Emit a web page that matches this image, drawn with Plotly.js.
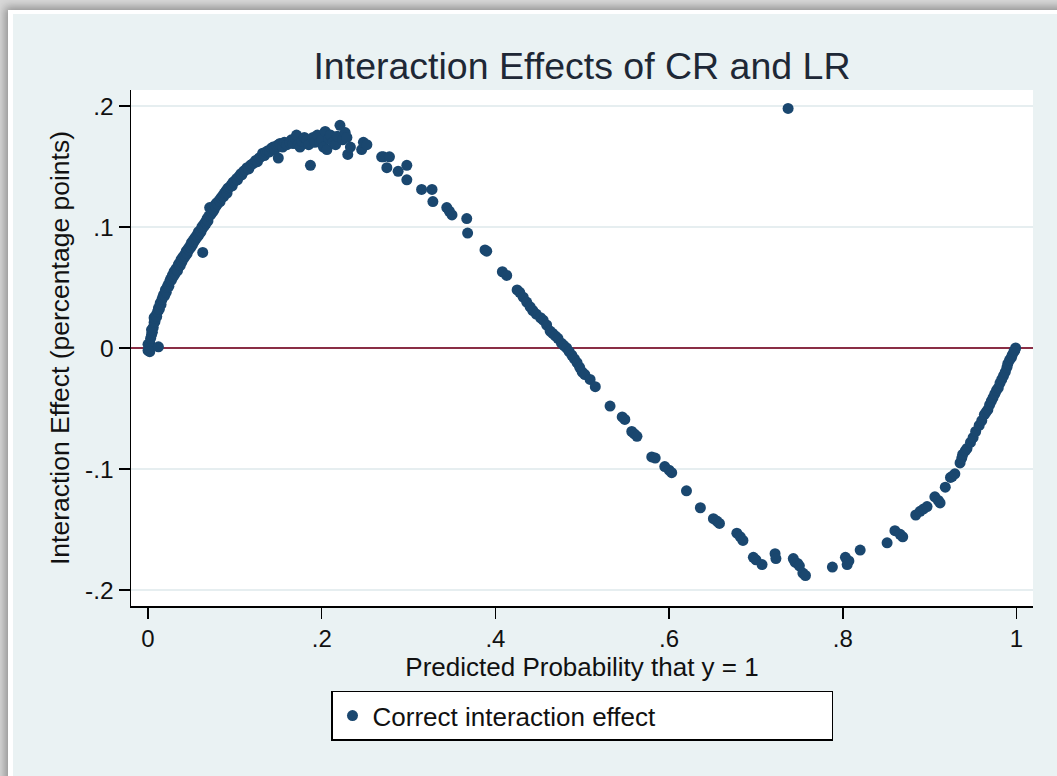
<!DOCTYPE html>
<html>
<head>
<meta charset="utf-8">
<script src="https://cdn.plot.ly/plotly-3.0.1.min.js"></script>
<style>
  html, body { margin: 0; padding: 0; width: 1057px; height: 776px; overflow: hidden; background: #d9d9d9; }
  #frame { position: absolute; left: 8px; top: 10px; width: 1060px; height: 780px; background: #ffffff;
           box-shadow: 0 0 9px 3px rgba(0,0,0,0.35); }
  #chart { position: absolute; left: 13px; top: 14px; width: 1044px; height: 762px; }
</style>
</head>
<body>
<div id="frame"></div>
<div id="chart"></div>
<script>
// Predicted probability that y = 1 (x) and interaction effect (y)
const predictedProb = [
  0.000,0.001,0.002,0.000,0.003,0.002,0.004,0.005,0.006,0.004,0.007,0.008,0.007,0.009,0.010,0.011,0.012,0.013,0.012,
  0.014,0.015,0.016,0.017,0.018,0.019,0.020,0.021,0.022,0.023,0.024,0.025,0.026,0.027,0.028,0.029,0.030,0.031,0.032,
  0.033,0.034,0.035,0.036,0.037,0.038,0.039,0.040,0.041,0.042,0.043,0.044,0.045,0.046,0.047,0.048,0.049,0.050,0.051,
  0.052,0.053,0.054,0.055,0.056,0.057,0.058,0.059,0.060,0.061,0.062,0.063,0.063,0.064,0.065,0.066,0.067,0.068,0.069,
  0.070,0.071,0.072,0.073,0.074,0.075,0.076,0.077,0.078,0.079,0.080,0.082,0.083,0.084,0.086,0.087,0.088,0.090,0.091,
  0.092,0.094,0.096,0.097,0.098,0.100,0.102,0.103,0.105,0.107,0.108,0.110,0.112,0.114,0.116,0.118,0.120,0.122,0.124,
  0.126,0.128,0.130,0.132,0.134,0.136,0.138,0.140,0.142,0.144,0.146,0.148,0.150,0.150,0.152,0.155,0.157,0.160,0.163,
  0.165,0.167,0.170,0.171,0.173,0.175,0.177,0.180,0.183,0.185,0.187,0.190,0.192,0.195,0.198,0.200,0.202,0.204,0.206,
  0.208,0.210,0.213,0.216,0.218,0.221,0.224,0.227,0.229,0.230,0.233,0.246,0.248,0.252,0.269,0.271,0.275,0.278,0.288,
  0.298,0.298,0.315,0.327,0.328,0.344,0.347,0.350,0.367,0.368,0.388,0.390,0.408,0.413,0.425,0.428,0.432,0.436,0.440,
  0.443,0.447,0.452,0.455,0.459,0.463,0.466,0.469,0.472,0.476,0.479,0.482,0.485,0.488,0.491,0.494,0.497,0.500,0.503,
  0.509,0.515,0.532,0.546,0.549,0.557,0.560,0.563,0.580,0.584,0.595,0.600,0.603,0.620,0.636,0.651,0.655,0.658,0.678,
  0.682,0.685,0.697,0.700,0.707,0.722,0.723,0.743,0.745,0.748,0.750,0.754,0.757,0.788,0.803,0.805,0.807,0.820,0.851,
  0.860,0.866,0.869,0.884,0.889,0.893,0.897,0.906,0.910,0.912,0.918,0.924,0.926,0.929,0.935,0.937,0.938,0.941,0.943,
  0.947,0.950,0.953,0.957,0.960,0.963,0.965,0.967,0.969,0.971,0.973,0.975,0.977,0.979,0.981,0.983,0.985,0.987,0.989,
  0.990,0.992,0.994,0.995,0.997,0.999,0.998,0.737
];
const interactionEffect = [
  -0.002,0.002,0.004,0.003,0.008,-0.003,0.011,0.013,0.017,0.015,0.021,0.022,0.025,0.027,0.026,0.030,0.033,0.032,0.001,
  0.037,0.036,0.040,0.042,0.044,0.043,0.048,0.046,0.050,0.052,0.051,0.055,0.057,0.056,0.060,0.059,0.063,0.061,0.065,
  0.066,0.064,0.069,0.070,0.068,0.073,0.071,0.075,0.074,0.077,0.076,0.080,0.078,0.082,0.081,0.084,0.083,0.087,0.085,
  0.089,0.088,0.091,0.090,0.093,0.092,0.096,0.094,0.097,0.096,0.100,0.079,0.099,0.102,0.101,0.104,0.103,0.107,0.105,
  0.109,0.116,0.110,0.113,0.112,0.115,0.114,0.118,0.117,0.120,0.119,0.122,0.121,0.124,0.126,0.125,0.128,0.130,0.128,
  0.132,0.133,0.135,0.134,0.137,0.138,0.140,0.139,0.142,0.144,0.143,0.146,0.147,0.149,0.148,0.151,0.152,0.153,0.155,
  0.154,0.157,0.158,0.161,0.159,0.162,0.163,0.162,0.165,0.166,0.164,0.167,0.157,0.168,0.169,0.166,0.170,0.168,0.170,
  0.172,0.169,0.173,0.176,0.168,0.166,0.171,0.174,0.172,0.168,0.151,0.174,0.170,0.176,0.170,0.172,0.166,0.179,0.164,
  0.173,0.176,0.170,0.168,0.175,0.184,0.172,0.178,0.174,0.160,0.166,0.164,0.170,0.168,0.158,0.158,0.149,0.158,0.146,
  0.151,0.139,0.131,0.131,0.121,0.116,0.113,0.110,0.107,0.095,0.081,0.080,0.063,0.060,0.048,0.046,0.042,0.038,0.034,
  0.031,0.028,0.025,0.023,0.019,0.014,0.012,0.010,0.008,0.004,0.002,0.000,-0.003,-0.006,-0.009,-0.012,-0.016,-0.020,-0.022,
  -0.026,-0.032,-0.048,-0.057,-0.059,-0.069,-0.071,-0.073,-0.090,-0.091,-0.098,-0.101,-0.103,-0.118,-0.132,-0.141,-0.143,-0.145,-0.153,
  -0.156,-0.159,-0.173,-0.175,-0.179,-0.170,-0.174,-0.174,-0.177,-0.178,-0.180,-0.186,-0.188,-0.181,-0.173,-0.179,-0.176,-0.167,-0.161,
  -0.151,-0.154,-0.156,-0.138,-0.135,-0.133,-0.131,-0.123,-0.126,-0.128,-0.115,-0.107,-0.106,-0.104,-0.095,-0.091,-0.088,-0.085,-0.083,
  -0.078,-0.074,-0.069,-0.064,-0.060,-0.055,-0.053,-0.051,-0.047,-0.044,-0.041,-0.038,-0.035,-0.033,-0.029,-0.026,-0.023,-0.020,-0.016,
  -0.013,-0.010,-0.008,-0.006,-0.003,0.000,-0.002,0.198
];
const xTickVals = [0, 0.2, 0.4, 0.6, 0.8, 1];
const xTickText = ['0', '.2', '.4', '.6', '.8', '1'];
const yTickVals = [-0.2, -0.1, 0, 0.1, 0.2];
const yTickText = ['-.2', '-.1', '0', '.1', '.2'];

const FONT = 'Arial, "Liberation Sans", sans-serif';

const trace = {
  type: 'scatter',
  mode: 'markers',
  x: predictedProb,
  y: interactionEffect,
  name: 'Correct interaction effect',
  marker: { color: '#1A476F', size: 11, line: { width: 0 } },
  hoverinfo: 'x+y'
};

const layout = {
  width: 1044,
  height: 762,
  paper_bgcolor: '#EAF2F3',
  plot_bgcolor: '#FFFFFF',
  margin: { l: 118, r: 24, t: 76, b: 170 },
  font: { family: FONT, color: '#111111', size: 24 },
  title: {
    text: 'Interaction Effects of CR and LR',
    font: { family: FONT, size: 37.5, color: '#1E2836' },
    x: 0.5, xref: 'paper', xanchor: 'center',
    y: 0.932, yref: 'container', yanchor: 'middle'
  },
  xaxis: {
    range: [-0.0196, 1.019],
    tickvals: xTickVals,
    ticktext: xTickText,
    ticks: 'outside', ticklen: 11, tickwidth: 1.5, tickcolor: '#000000',
    showline: true, linecolor: '#000000', linewidth: 1.5,
    showgrid: false, zeroline: false,
    tickfont: { family: FONT, size: 24, color: '#111111' },
    title: { text: 'Predicted Probability that y = 1', font: { family: FONT, size: 26, color: '#111111' }, standoff: 0 },
    automargin: false
  },
  yaxis: {
    range: [-0.2132, 0.2132],
    tickvals: yTickVals,
    ticktext: yTickText,
    ticks: 'outside', ticklen: 11, tickwidth: 1.5, tickcolor: '#000000',
    showline: true, linecolor: '#000000', linewidth: 1.5,
    showgrid: true, gridcolor: '#E6EEF0', gridwidth: 2,
    zeroline: true, zerolinecolor: '#8A2E45', zerolinewidth: 2,
    tickfont: { family: FONT, size: 24.5, color: '#111111' },
    title: { text: 'Interaction Effect (percentage points)', font: { family: FONT, size: 26.5, color: '#111111' }, standoff: 7 },
    automargin: false
  },
  showlegend: true,
  legend: {
    orientation: 'h',
    x: 0.5, xanchor: 'center',
    y: -0.164, yanchor: 'top',
    bgcolor: '#FFFFFF', bordercolor: '#000000', borderwidth: 1.5,
    font: { family: FONT, size: 26, color: '#111111' },
    entrywidth: 454, entrywidthmode: 'pixels'
  }
};

Plotly.newPlot('chart', [trace], layout, { displayModeBar: false, staticPlot: true });
</script>
</body>
</html>
